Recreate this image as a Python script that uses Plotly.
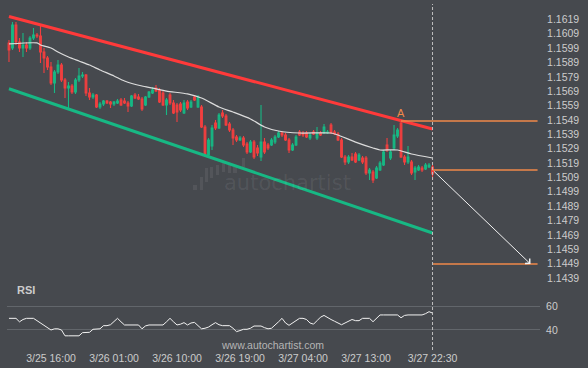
import plotly.graph_objects as go
import pandas as pd

# ---------------- data ----------------
times = pd.date_range("2021-03-25 10:00", periods=122, freq="30min")

open_ = [1.16026, 1.15991, 1.16151, 1.16032, 1.15991, 1.16012, 1.15991, 1.16060, 1.16081, 1.16074,
         1.15963, 1.15921, 1.15858, 1.15747, 1.15824, 1.15872, 1.15768, 1.15712, 1.15726, 1.15684,
         1.15768, 1.15796, 1.15803, 1.15678, 1.15650, 1.15664, 1.15580, 1.15601, 1.15622, 1.15615,
         1.15601, 1.15608, 1.15629, 1.15622, 1.15608, 1.15587, 1.15664, 1.15650, 1.15636, 1.15594,
         1.15650, 1.15678, 1.15712, 1.15698, 1.15678, 1.15594, 1.15664, 1.15608, 1.15594, 1.15601,
         1.15538, 1.15615, 1.15580, 1.15650, 1.15580, 1.15580, 1.15441, 1.15246, 1.15309, 1.15469,
         1.15434, 1.15538, 1.15517, 1.15462, 1.15420, 1.15371, 1.15350, 1.15364, 1.15323, 1.15267,
         1.15336, 1.15295, 1.15232, 1.15336, 1.15316, 1.15316, 1.15336, 1.15371, 1.15399, 1.15385,
         1.15350, 1.15281, 1.15316, 1.15406, 1.15399, 1.15399, 1.15364, 1.15406, 1.15364, 1.15399,
         1.15399, 1.15399, 1.15455, 1.15406, 1.15392, 1.15350, 1.15232, 1.15197, 1.15232, 1.15253,
         1.15211, 1.15225, 1.15225, 1.15121, 1.15128, 1.15086, 1.15142, 1.15176, 1.15316, 1.15225,
         1.15295, 1.15378, 1.15469, 1.15232, 1.15197, 1.15197, 1.15128, 1.15142, 1.15156, 1.15149,
         1.15162, 1.15162]
high = [1.16046, 1.16172, 1.16172, 1.16060, 1.16095, 1.16032, 1.16074, 1.16130, 1.16095, 1.16144,
        1.15991, 1.15935, 1.15893, 1.15838, 1.15907, 1.15886, 1.15782, 1.15754, 1.15740, 1.15782,
        1.15852, 1.15824, 1.15810, 1.15712, 1.15678, 1.15671, 1.15615, 1.15629, 1.15629, 1.15622,
        1.15622, 1.15636, 1.15643, 1.15643, 1.15622, 1.15664, 1.15678, 1.15671, 1.15650, 1.15657,
        1.15691, 1.15719, 1.15733, 1.15712, 1.15691, 1.15643, 1.15678, 1.15629, 1.15608, 1.15615,
        1.15629, 1.15629, 1.15629, 1.15664, 1.15664, 1.15594, 1.15455, 1.15364, 1.15455, 1.15490,
        1.15538, 1.15559, 1.15531, 1.15476, 1.15434, 1.15385, 1.15378, 1.15378, 1.15336, 1.15350,
        1.15350, 1.15316, 1.15594, 1.15364, 1.15330, 1.15364, 1.15385, 1.15413, 1.15413, 1.15399,
        1.15364, 1.15330, 1.15385, 1.15420, 1.15413, 1.15413, 1.15399, 1.15420, 1.15441, 1.15413,
        1.15462, 1.15420, 1.15469, 1.15420, 1.15406, 1.15364, 1.15246, 1.15246, 1.15260, 1.15267,
        1.15260, 1.15239, 1.15239, 1.15156, 1.15142, 1.15169, 1.15204, 1.15281, 1.15364, 1.15281,
        1.15455, 1.15434, 1.15483, 1.15246, 1.15309, 1.15211, 1.15169, 1.15176, 1.15169, 1.15190,
        1.15190, 1.15176]
low = [1.15893, 1.15977, 1.16012, 1.15963, 1.15928, 1.15963, 1.15977, 1.16046, 1.16060, 1.15886,
       1.15817, 1.15838, 1.15733, 1.15678, 1.15810, 1.15754, 1.15643, 1.15573, 1.15671, 1.15671,
       1.15754, 1.15782, 1.15657, 1.15629, 1.15636, 1.15573, 1.15566, 1.15587, 1.15601, 1.15573,
       1.15587, 1.15601, 1.15587, 1.15601, 1.15545, 1.15580, 1.15636, 1.15629, 1.15552, 1.15587,
       1.15643, 1.15671, 1.15684, 1.15608, 1.15587, 1.15524, 1.15594, 1.15531, 1.15476, 1.15545,
       1.15531, 1.15559, 1.15573, 1.15622, 1.15573, 1.15434, 1.15232, 1.15232, 1.15281, 1.15420,
       1.15427, 1.15504, 1.15448, 1.15406, 1.15316, 1.15336, 1.15343, 1.15302, 1.15253, 1.15260,
       1.15218, 1.15239, 1.15204, 1.15253, 1.15281, 1.15309, 1.15323, 1.15364, 1.15371, 1.15343,
       1.15260, 1.15274, 1.15309, 1.15378, 1.15371, 1.15364, 1.15350, 1.15385, 1.15350, 1.15378,
       1.15392, 1.15392, 1.15392, 1.15385, 1.15343, 1.15225, 1.15176, 1.15183, 1.15204, 1.15190,
       1.15204, 1.15183, 1.15107, 1.15072, 1.15051, 1.15079, 1.15135, 1.15169, 1.15267, 1.15211,
       1.15281, 1.15364, 1.15225, 1.15176, 1.15183, 1.15107, 1.15072, 1.15135, 1.15128, 1.15142,
       1.15156, 1.15072]
close = [1.15977, 1.16151, 1.16032, 1.15991, 1.16012, 1.15991, 1.16060, 1.16081, 1.16074, 1.15963,
         1.15921, 1.15858, 1.15747, 1.15824, 1.15872, 1.15768, 1.15712, 1.15726, 1.15684, 1.15768,
         1.15796, 1.15803, 1.15678, 1.15650, 1.15664, 1.15580, 1.15601, 1.15622, 1.15608, 1.15601,
         1.15615, 1.15622, 1.15594, 1.15608, 1.15587, 1.15657, 1.15643, 1.15636, 1.15566, 1.15650,
         1.15684, 1.15698, 1.15691, 1.15615, 1.15594, 1.15629, 1.15608, 1.15538, 1.15545, 1.15559,
         1.15608, 1.15573, 1.15615, 1.15629, 1.15650, 1.15441, 1.15246, 1.15350, 1.15434, 1.15434,
         1.15524, 1.15517, 1.15455, 1.15420, 1.15364, 1.15350, 1.15364, 1.15316, 1.15267, 1.15336,
         1.15232, 1.15260, 1.15336, 1.15267, 1.15295, 1.15350, 1.15371, 1.15399, 1.15385, 1.15350,
         1.15281, 1.15316, 1.15371, 1.15385, 1.15385, 1.15371, 1.15385, 1.15392, 1.15399, 1.15385,
         1.15441, 1.15406, 1.15399, 1.15392, 1.15350, 1.15232, 1.15197, 1.15232, 1.15211, 1.15197,
         1.15246, 1.15197, 1.15121, 1.15142, 1.15072, 1.15156, 1.15190, 1.15267, 1.15281, 1.15267,
         1.15385, 1.15420, 1.15232, 1.15197, 1.15232, 1.15121, 1.15156, 1.15162, 1.15142, 1.15176,
         1.15176, 1.15114]

# moving average (candle index -> value)
ma_idx = [0, 8, 9, 12, 14, 17, 20, 23, 26, 30, 33, 38, 41, 45, 51, 55, 60, 64, 69, 73,
          77, 83, 92, 94, 99, 104, 106, 111, 115, 121]
ma_vals = [1.16019, 1.16026, 1.16012, 1.15991, 1.15963, 1.15928, 1.15900, 1.15872, 1.15838, 1.15796,
           1.15761, 1.15726, 1.15712, 1.15691, 1.15671, 1.15643, 1.15580, 1.15545, 1.15497, 1.15441,
           1.15413, 1.15399, 1.15399, 1.15385, 1.15336, 1.15295, 1.15281, 1.15281, 1.15253, 1.15225]

rsi = [50, 50, 50, 47, 49, 50, 50, 50, 48, 46,
       44, 42, 40, 41, 41, 40, 35, 35, 35, 35,
       35, 37.7, 38, 38, 40.6, 41, 41, 43.7, 43.7, 44.5,
       47, 50, 47, 44.3, 44.3, 44.3, 44.3, 44.3, 41, 43.5,
       44.3, 44.3, 44.3, 44.3, 44.3, 47, 50, 47, 44.3, 45,
       46.3, 44.3, 46, 46.5, 44, 41, 41.5, 42.5, 44.5, 46.3,
       44.5, 43.7, 43.7, 43.7, 41.5, 38.6, 39.5, 40.6, 40.6, 41.5,
       43.4, 43.4, 43.4, 42, 41, 41.5, 44, 47, 50, 46,
       44, 46, 48.5, 50, 50, 49, 46, 45, 48, 51,
       52.5, 50.5, 49, 47.5, 46, 44.5, 46, 47.5, 49, 48,
       48, 50, 50, 50, 47.1, 50, 52.9, 52.9, 52.9, 52.9,
       52.9, 52.9, 50.5, 52.5, 52.9, 52.9, 52.9, 52.9, 52.9, 54,
       55.7, 54.5]

upper_channel = [1.16210, 1.15427]
lower_channel = [1.15707, 1.14703]
pattern_idx = 112
pattern_high = 1.15483
current_level = 1.15142
target_level = 1.14487
target_time = "2021-03-28 12:30"
level_end_time = "2021-03-28 13:30"

price_ticks = [1.1439, 1.1449, 1.1459, 1.1469, 1.1479, 1.1489, 1.1499, 1.1509, 1.1519, 1.1529,
               1.1539, 1.1549, 1.1559, 1.1569, 1.1579, 1.1589, 1.1599, 1.1609, 1.1619, 1.1629]
time_ticks = ["2021-03-25 16:00", "2021-03-26 01:00", "2021-03-26 10:00", "2021-03-26 19:00",
              "2021-03-27 04:00", "2021-03-27 13:00", "2021-03-27 22:30"]
time_tick_text = ["3/25 16:00", "3/26 01:00", "3/26 10:00", "3/26 19:00",
                  "3/27 04:00", "3/27 13:00", "3/27 22:30"]
rsi_ticks = [40, 60]

# ---------------- style ----------------
BG = "#46494e"
TXT = "#cccccc"
RED = "#f23f3f"
GREEN = "#17b884"
ORANGE = "#f0894a"
FONT = "Liberation Sans"

x_start = pd.Timestamp("2021-03-25 09:43")
x_end = pd.Timestamp("2021-03-28 13:51")

W, H = 588, 368
ML, MR, MT, MB = 7, 48, 0, 26
PW, PH = W - ML - MR, H - MT - MB

def px_x(px):
    return (px - ML) / PW

def px_y(py):
    return (PH - (py - MT)) / PH

fig = go.Figure()

fig.add_trace(go.Candlestick(
    x=times, open=open_, high=high, low=low, close=close,
    increasing=dict(line=dict(color=GREEN, width=1.1), fillcolor=GREEN),
    decreasing=dict(line=dict(color=RED, width=1.1), fillcolor=RED),
    whiskerwidth=0, showlegend=False, hoverinfo="skip",
    xaxis="x", yaxis="y"))

fig.add_trace(go.Scatter(
    x=[times[i] for i in ma_idx], y=ma_vals, mode="lines",
    line=dict(color="#dcdcdc", width=1.2, shape="spline", smoothing=0.6),
    showlegend=False, hoverinfo="skip", xaxis="x", yaxis="y"))

fig.add_trace(go.Scatter(
    x=[times[0], times[-1]], y=upper_channel, mode="lines",
    line=dict(color="#ff3a3a", width=3), showlegend=False, hoverinfo="skip",
    xaxis="x", yaxis="y"))
fig.add_trace(go.Scatter(
    x=[times[0], times[-1]], y=lower_channel, mode="lines",
    line=dict(color=GREEN, width=3), showlegend=False, hoverinfo="skip",
    xaxis="x", yaxis="y"))

# horizontal levels
fig.add_trace(go.Scatter(
    x=[times[pattern_idx], pd.Timestamp(level_end_time)], y=[pattern_high, pattern_high],
    mode="lines", line=dict(color=ORANGE, width=1.5), showlegend=False, hoverinfo="skip",
    xaxis="x", yaxis="y"))
fig.add_trace(go.Scatter(
    x=[times[-1], pd.Timestamp(level_end_time)], y=[current_level, current_level],
    mode="lines", line=dict(color=ORANGE, width=1.5), showlegend=False, hoverinfo="skip",
    xaxis="x", yaxis="y"))
fig.add_trace(go.Scatter(
    x=[times[-1], pd.Timestamp(level_end_time)], y=[target_level, target_level],
    mode="lines", line=dict(color=ORANGE, width=1.5), showlegend=False, hoverinfo="skip",
    xaxis="x", yaxis="y"))

# RSI
fig.add_trace(go.Scatter(
    x=times, y=rsi, mode="lines", line=dict(color="#f2f2f2", width=1),
    showlegend=False, hoverinfo="skip", xaxis="x", yaxis="y2"))

# vertical dashed line at last candle
frac = (times[-1] - x_start) / (x_end - x_start)
shapes = [dict(type="line", xref="paper", yref="paper", x0=frac, x1=frac,
               y0=px_y(350), y1=px_y(4), line=dict(color="#c0c0c0", width=1, dash="3px,2px"))]

# faint logo bars
logo_bars = [(193, 197, 185, 190), (200, 203, 177, 190), (205, 208, 168, 182), (210, 213, 167, 178),
             (216, 219, 165, 175), (222, 225, 163, 172), (228, 231, 165, 173), (233, 237, 167, 173),
             (242, 245, 158, 167)]
for x0, x1, y0, y1 in logo_bars:
    shapes.append(dict(type="rect", xref="paper", yref="paper", x0=px_x(x0), x1=px_x(x1),
                       y0=px_y(y1), y1=px_y(y0), line=dict(width=0),
                       fillcolor="rgba(255,255,255,0.07)", layer="below"))

annotations = [
    dict(x=pd.Timestamp(target_time), y=target_level, ax=times[-1], ay=current_level,
         xref="x", yref="y", axref="x", ayref="y", showarrow=True, text="",
         arrowhead=4, arrowsize=1.3, arrowwidth=1, arrowcolor="#f2f2f2"),
    dict(x=times[pattern_idx], y=pattern_high, xref="x", yref="y", text="A", showarrow=False,
         yanchor="bottom", yshift=0, font=dict(family=FONT, size=11, color=ORANGE)),
    dict(x=px_x(15), y=px_y(290), xref="paper", yref="paper", text="<b>RSI</b>", showarrow=False,
         xanchor="left", yanchor="middle", font=dict(family=FONT, size=11, color=TXT)),
    dict(x=px_x(272), y=px_y(345), xref="paper", yref="paper", text="www.autochartist.com",
         showarrow=False, xanchor="center", yanchor="middle",
         font=dict(family=FONT, size=10.5, color="#b5b5b5")),
    dict(x=px_x(287), y=px_y(183), xref="paper", yref="paper", text="autochartist",
         showarrow=False, xanchor="center", yanchor="middle",
         font=dict(family="DejaVu Sans", size=21, color="rgba(255,255,255,0.08)")),
]

price_top = 1.1629 + 5 * 0.0000696
price_bot = 1.1629 - 280 * 0.0000696

fig.update_layout(
    width=W, height=H, margin=dict(l=ML, r=MR, t=MT, b=MB),
    paper_bgcolor=BG, plot_bgcolor=BG, showlegend=False,
    font=dict(family=FONT, color=TXT, size=10.5),
    xaxis=dict(domain=[0, 1], anchor="y2", range=[x_start, x_end], showgrid=False,
               zeroline=False, showline=False, rangeslider=dict(visible=False),
               tickvals=[pd.Timestamp(t) for t in time_ticks], ticktext=time_tick_text,
               ticks="outside", ticklen=6, tickcolor=BG,
               tickfont=dict(family=FONT, size=10.5, color=TXT)),
    yaxis=dict(domain=[px_y(285), 1], anchor="x", side="right",
               range=[price_bot, price_top], showgrid=False, zeroline=False, showline=False,
               tickvals=price_ticks, tickformat=".4f", ticks="outside", ticklen=4, tickcolor=BG,
               tickfont=dict(family=FONT, size=10.5, color=TXT)),
    yaxis2=dict(domain=[0, px_y(295)], anchor="x", side="right", range=[29.7, 70],
                showgrid=True, gridcolor="#62666b", gridwidth=1, zeroline=False, showline=False,
                tickvals=rsi_ticks, ticks="outside", ticklen=3, tickcolor=BG,
                tickfont=dict(family=FONT, size=10.5, color=TXT)),
    shapes=shapes, annotations=annotations,
)

fig.write_html("out.html", config={"displayModeBar": False},
               post_script="document.body.style.margin='0px';document.body.style.background='%s';" % BG)
